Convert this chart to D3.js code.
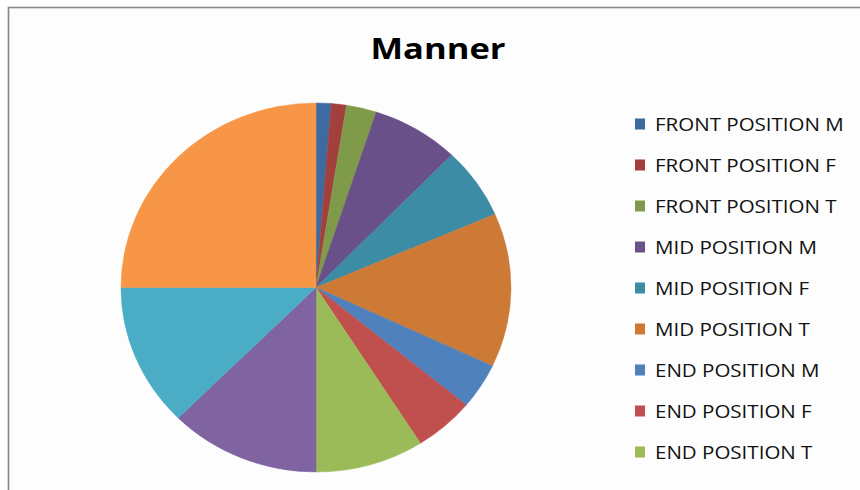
<!DOCTYPE html>
<html>
<head>
<meta charset="utf-8">
<script src="https://cdn.jsdelivr.net/npm/d3@7"></script>
<style>
  body { margin: 0; background: #fff; }
  svg { display: block; }
</style>
</head>
<body>
<div id="chart"></div>
<script>
var width = 860, height = 490;

// data
var categories = ["FRONT POSITION M", "FRONT POSITION F", "FRONT POSITION T",
    "MID POSITION M", "MID POSITION F", "MID POSITION T",
    "END POSITION M", "END POSITION F", "END POSITION T",
    "TOTAL M", "TOTAL F", "TOTAL T"];
var values = [5, 5, 10, 29, 25, 54, 16, 20, 36, 50, 50, 100];
var colors = ["#3d6aa0", "#a2403e", "#7f9b49", "#6a5088", "#3b8ca4", "#cd7a37",
    "#4f81bd", "#c0504d", "#9bbb59", "#8064a2", "#4bacc6", "#f79646"];

var data = categories.map(function (c, i) { return { name: c, value: values[i], color: colors[i] }; });

var svg = d3.select("#chart")
    .append("svg")
    .attr("width", width)
    .attr("height", height);

// chart area border (right and bottom edges run off the picture)
svg.append("rect")
    .attr("x", 8.5)
    .attr("y", 7.5)
    .attr("width", 900)
    .attr("height", 600)
    .attr("fill", "#fdfdfd")
    .attr("stroke", "#888")
    .attr("stroke-width", 1.6);

// title
svg.append("text")
    .attr("x", 438)
    .attr("y", 59)
    .attr("text-anchor", "middle")
    .attr("font-family", "'Open Sans', sans-serif")
    .attr("font-weight", "bold")
    .attr("font-size", 29)
    .attr("textLength", 135)
    .attr("lengthAdjust", "spacingAndGlyphs")
    .attr("fill", "#000")
    .text("Manner");

// pie (slightly wider than tall, as in the original)
var ry = 184.5, rx = 195;
var pie = d3.pie().sort(null).value(function (d) { return d.value; });
var arc = d3.arc().innerRadius(0).outerRadius(ry);

var g = svg.append("g")
    .attr("transform", "translate(316,287.5) scale(" + (rx / ry) + ",1)");

g.selectAll("path")
    .data(pie(data))
    .enter().append("path")
    .attr("d", arc)
    .attr("fill", function (d) { return d.data.color; })
    .attr("stroke", function (d) { return d.data.color; })
    .attr("stroke-width", 0.5);

// legend: entries that don't fit in the chart area are dropped
var legendTop = 124, legendStep = 41, legendBottom = 470;
var legendData = data.filter(function (d, i) { return legendTop + i * legendStep + 8 < legendBottom; });

var legend = svg.append("g");
var item = legend.selectAll("g")
    .data(legendData)
    .enter().append("g")
    .attr("transform", function (d, i) { return "translate(635," + (legendTop + i * legendStep) + ")"; });

item.append("rect")
    .attr("x", 0)
    .attr("y", -5.5)
    .attr("width", 10)
    .attr("height", 11)
    .attr("fill", function (d) { return d.color; });

var labels = item.append("text")
    .attr("x", 20)
    .attr("y", 7)
    .attr("font-family", "'Open Sans', sans-serif")
    .attr("font-size", 19)
    .attr("fill", "#111")
    .text(function (d) { return d.name; });

// squeeze labels to the width of the original lettering
var first = labels.node().getComputedTextLength();
var sx = 189 / first;
labels.attr("transform", "translate(20,0) scale(" + sx + ",1) translate(-20,0)");
</script>
</body>
</html>
